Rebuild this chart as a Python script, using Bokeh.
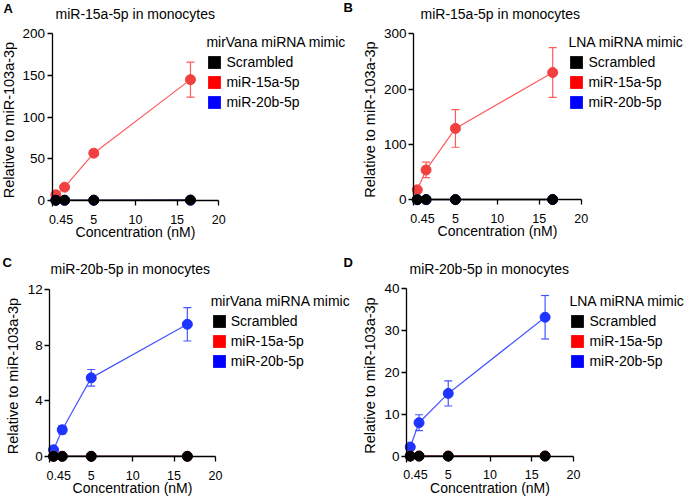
from bokeh.plotting import figure
from bokeh.layouts import column, row
from bokeh.models import (FixedTicker, Whisker, TeeHead, ColumnDataSource, Legend,
                          LegendItem, Label, Range1d)
from bokeh.embed import file_html
from bokeh.resources import INLINE

FONT = "Liberation Sans"

# ---------------- data ----------------
conc = [0.45, 1.5, 5, 16.6]
x_ticks = [0.45, 5, 10, 15, 20]
x_tick_labels = {0.45: "\u00a0\u00a0\u00a00.45"}
x_lo, x_hi = 0, 20
series_names = ["Scrambled", "miR-15a-5p", "miR-20b-5p"]

# Panel A: miR-15a-5p in monocytes, mirVana mimic
a_scr = [0.3, 0.4, 0.4, 0.5]
a_15a = [6.8, 16, 56.8, 145]
a_15a_err = [1.0, 1.5, 3.0, 21]
a_20b = [0.2, 0.2, 0.3, 0.4]
a_yticks = [0, 50, 100, 150, 200]

# Panel B: miR-15a-5p in monocytes, LNA mimic
b_scr = [0.3, 0.4, 0.4, 0.5]
b_15a = [18, 54, 129, 230]
b_15a_err = [1.5, 14, 34, 45]
b_20b = [0.2, 0.2, 0.3, 0.4]
b_yticks = [0, 100, 200, 300]

# Panel C: miR-20b-5p in monocytes, mirVana mimic
c_scr = [0.01, 0.01, 0.01, 0.01]
c_15a = [0.02, 0.02, 0.02, 0.02]
c_20b = [0.48, 1.92, 5.65, 9.5]
c_20b_err = [0.05, 0.3, 0.6, 1.2]
c_yticks = [0, 4, 8, 12]

# Panel D: miR-20b-5p in monocytes, LNA mimic
d_scr = [0.02, 0.02, 0.02, 0.02]
d_15a = [0.05, 0.05, 0.05, 0.05]
d_20b = [2.2, 8.0, 15.0, 33.2]
d_20b_err = [0.3, 1.9, 3.0, 5.2]
d_yticks = [0, 10, 20, 30, 40]

RED_M, RED_L = "#f24040", "#ff5c5c"
BLUE_M, BLUE_L = "#1f35ff", "#4556ff"
SW = ["#000000", "#ff0000", "#0000ff"]


def add_text(p, text, y, dx, dy, size="14px", bold=False):
    p.add_layout(Label(x=x_lo, y=y, x_offset=dx, y_offset=dy, text=text,
                       text_baseline="middle", text_font=FONT, text_font_size=size,
                       text_font_style="bold" if bold else "normal",
                       text_color="black"))


def make_panel(W, H, X0, X1, Yt, Yz, ymax, yticks, title, title_dx, title_dy,
               legend_title, leg_x, leg_top, scr, pos, pos_err, zero, pos_is_red):
    sx = (X1 - X0) / (x_hi - x_lo)
    sy = (Yz - Yt) / ymax
    xr = Range1d(x_lo - X0 / sx, x_lo + (W - X0) / sx)
    yr = Range1d(-(H - Yz) / sy, ymax + Yt / sy)
    p = figure(width=W, height=H, x_range=xr, y_range=yr, output_backend="svg",
               toolbar_location=None, min_border_left=0, min_border_right=0,
               min_border_top=0, min_border_bottom=0)
    p.title.visible = False
    p.outline_line_color = None
    p.grid.visible = False
    p.background_fill_color = "white"
    p.border_fill_color = "white"

    for ax in (p.xaxis, p.yaxis):
        ax.axis_line_color = "black"
        ax.axis_line_width = 1.3
        ax.major_tick_line_color = "black"
        ax.major_tick_line_width = 1.3
        ax.major_tick_in = 0
        ax.major_tick_out = 5
        ax.minor_tick_line_color = None
        ax.major_label_text_font = FONT
        ax.major_label_text_color = "black"
        ax.axis_label_text_font = FONT
        ax.axis_label_text_font_style = "normal"
        ax.axis_label_text_color = "black"

    p.xaxis.fixed_location = 0
    p.xaxis.bounds = (x_lo, x_hi)
    p.xaxis.ticker = FixedTicker(ticks=x_ticks)
    p.xaxis.major_label_overrides = x_tick_labels
    p.xaxis.major_label_text_font_size = "12.5px"
    p.xaxis.major_label_standoff = 7
    p.xaxis.axis_label = "Concentration (nM)"
    p.xaxis.axis_label_text_font_size = "14px"
    p.xaxis.axis_label_standoff = -6

    p.yaxis.fixed_location = x_lo
    p.yaxis.bounds = (-6 / sy, ymax)
    p.yaxis.ticker = FixedTicker(ticks=yticks)
    p.yaxis.major_label_text_font_size = "13.5px"
    p.yaxis.major_label_standoff = 2
    p.yaxis.axis_label = "Relative to miR-103a-3p"
    p.yaxis.axis_label_text_font_size = "14.5px"
    p.yaxis.axis_label_standoff = 3

    pos_m, pos_l = (RED_M, RED_L) if pos_is_red else (BLUE_M, BLUE_L)
    zero_m, zero_l = (BLUE_M, BLUE_L) if pos_is_red else (RED_M, RED_L)

    src = ColumnDataSource(dict(x=conc, y=pos,
                                upper=[v + e for v, e in zip(pos, pos_err)],
                                lower=[v - e for v, e in zip(pos, pos_err)]))
    p.add_layout(Whisker(source=src, base="x", upper="upper", lower="lower",
                         line_color=pos_l, line_width=1.2,
                         upper_head=TeeHead(size=8, line_color=pos_l, line_width=1.2),
                         lower_head=TeeHead(size=8, line_color=pos_l, line_width=1.2)))
    p.line("x", "y", source=src, line_color=pos_l, line_width=1.2)
    p.scatter("x", "y", source=src, size=10, fill_color=pos_m, line_color=pos_m)

    p.line(conc, scr, line_color="black", line_width=1.5)
    p.line(conc, zero, line_color=zero_l, line_width=1.0, line_alpha=0.5)
    p.scatter(conc, zero, size=10, fill_color=zero_m, line_color=zero_m)
    p.scatter(conc, scr, size=10, fill_color="black", line_color="black")

    items = []
    for name, c in zip(series_names, SW):
        # degenerate (zero-area) quad used only to carry the legend swatch colour
        r = p.quad(left=[x_lo], right=[x_lo], top=[0], bottom=[0],
                   fill_color=c, line_color=None)
        items.append(LegendItem(label=name, renderers=[r]))
    leg = Legend(items=items, location=(leg_x, H - leg_top - 76), title=legend_title,
                 title_text_font=FONT, title_text_font_size="14px",
                 title_text_font_style="normal", title_text_color="black",
                 title_standoff=4,
                 label_text_font=FONT, label_text_font_size="14px", label_text_color="black",
                 glyph_width=16, glyph_height=16, label_height=16, label_standoff=4,
                 spacing=4, padding=0, margin=0, border_line_color=None,
                 background_fill_alpha=0)
    p.add_layout(leg)

    add_text(p, title, ymax, title_dx, title_dy)
    return p


pA = make_panel(360, 248, 51.6, 218.3, 33.3, 200, 200, a_yticks,
                "miR-15a-5p in monocytes", 3.4, 19.8, "mirVana miRNA mimic", 206.4, 34,
                a_scr, a_15a, a_15a_err, a_20b, True)
add_text(pA, "A", 200, -48.6, 25.8, size="13px", bold=True)
add_text(pA, "B", 200, 291.4, 26, size="13px", bold=True)

pB = make_panel(325, 248, 53, 220.7, 33.3, 199.3, 300, b_yticks,
                "miR-15a-5p in monocytes", 7, 19.5, "LNA miRNA mimic", 208.4, 34,
                b_scr, b_15a, b_15a_err, b_20b, True)

pC = make_panel(360, 250, 49.3, 215, 41, 208, 12, c_yticks,
                "miR-20b-5p in monocytes", 0.7, 21, "mirVana miRNA mimic", 210.7, 45,
                c_scr, c_20b, c_20b_err, c_15a, False)
add_text(pC, "C", 12, -47.3, 27, size="13px", bold=True)
add_text(pC, "D", 12, 293.7, 27, size="13px", bold=True)

pD = make_panel(325, 250, 46, 213, 40.3, 207.7, 40, d_yticks,
                "miR-20b-5p in monocytes", 3, 20, "LNA miRNA mimic", 209.4, 45,
                d_scr, d_20b, d_20b_err, d_15a, False)

layout = column(row(pA, pB), row(pC, pD))
open("out.html", "w").write(file_html(layout, INLINE))
